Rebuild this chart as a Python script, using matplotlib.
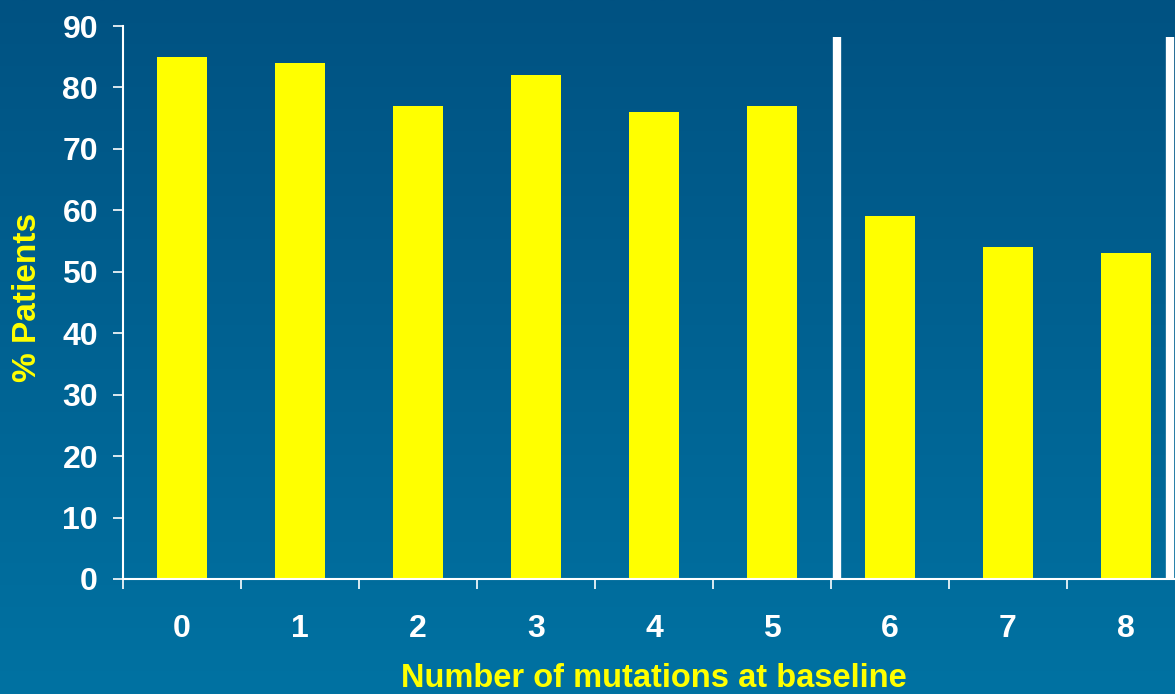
import numpy as np
import matplotlib
matplotlib.use("Agg")
import matplotlib.pyplot as plt
from matplotlib.colors import LinearSegmentedColormap

# Data
mutations = [0, 1, 2, 3, 4, 5, 6, 7, 8]
pct_patients = [85, 84, 77, 82, 76, 77, 59, 54, 53]
y_ticks = [0, 10, 20, 30, 40, 50, 60, 70, 80, 90]
separators = [5.55, 8.37]
separator_top = 88.2

plt.rcParams['font.family'] = ['Liberation Sans', 'DejaVu Sans']
plt.rcParams['font.weight'] = 'bold'

fig = plt.figure(figsize=(11.75, 6.94), dpi=100)

# Vertical blue gradient background
bg = fig.add_axes([0, 0, 1, 1], zorder=0)
grad = np.linspace(0, 1, 256).reshape(-1, 1)
cmap = LinearSegmentedColormap.from_list("bg", ["#005282", "#0072a2"])
bg.imshow(grad, aspect='auto', cmap=cmap, extent=[0, 1, 0, 1], origin='upper')
bg.set_axis_off()

ax = fig.add_axes([123 / 1175, 1 - 579 / 694, 1062 / 1175, (579 - 26) / 694], zorder=1)
ax.patch.set_alpha(0)

x = np.arange(len(mutations))
ax.bar(x, pct_patients, width=0.42, color='#ffff00', zorder=2)

for sx in separators:
    ax.plot([sx, sx], [0, separator_top], color='white', lw=6, solid_capstyle='butt',
            zorder=3, clip_on=False)

ax.set_xlim(-0.5, len(mutations) - 0.5)
ax.set_ylim(0, 90)

for side in ['top', 'right']:
    ax.spines[side].set_visible(False)
for side in ['left', 'bottom']:
    ax.spines[side].set_color('white')
    ax.spines[side].set_linewidth(1.5)

ax.set_yticks(y_ticks)
ax.set_yticklabels([str(v) for v in y_ticks])
ax.tick_params(axis='y', colors='white', labelsize=23, length=7, width=1.2, pad=11)

# boundary ticks unlabeled, category labels centered
ax.set_xticks(np.arange(-0.5, len(mutations) + 0.5, 1.0))
ax.set_xticklabels([])
ax.set_xticks(x, minor=True)
ax.set_xticklabels([str(m) for m in mutations], minor=True)
ax.tick_params(axis='x', which='major', colors='white', length=7, width=1.2)
ax.tick_params(axis='x', which='minor', colors='white', labelsize=23, length=0, pad=25)

for lab in ax.get_xticklabels(minor=True) + ax.get_yticklabels():
    lab.set_fontweight('bold')

ax.set_ylabel('% Patients', color='#ffff00', fontsize=24, fontweight='bold')
ax.set_xlabel('Number of mutations at baseline', color='#ffff00', fontsize=23.5,
              fontweight='bold')
ax.yaxis.set_label_coords(-80 / 1062, 0.51)
ax.xaxis.set_label_coords(0.5, -(663 - 579) / 553)

fig.savefig('out.png', dpi=100)
